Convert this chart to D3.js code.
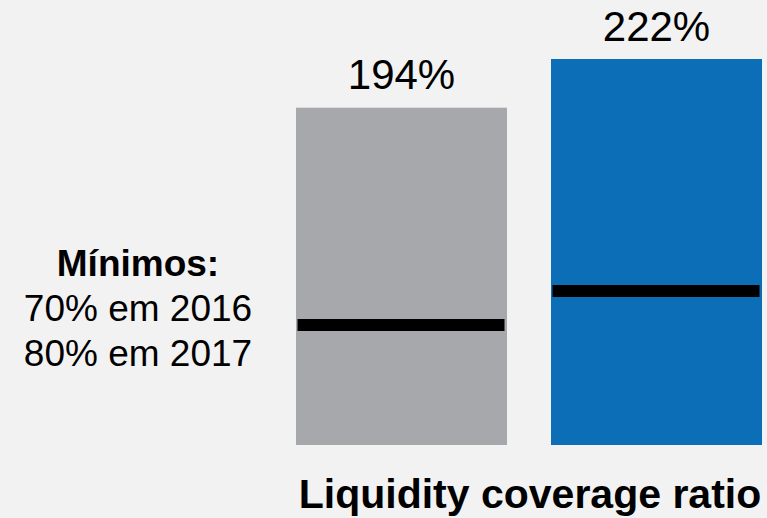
<!DOCTYPE html>
<html>
<head>
<meta charset="utf-8">
<script src="https://cdn.jsdelivr.net/npm/d3@7"></script>
<style>
  html, body { margin: 0; padding: 0; background: #f2f2f2; }
  svg { display: block; font-family: "Liberation Sans", Arial, sans-serif; }
</style>
</head>
<body>
<svg id="chart" width="767" height="518"></svg>
<script>
// Liquidity coverage ratio by year, with the regulatory minimum marked on each bar
const years = ["2016", "2017"];
const lcrValues = [194, 222];
const valueLabels = ["194%", "222%"];
const minimumMarks = [69, 88.6];
const barColors = ["#a7a8ab", "#0c6eb7"];
const noteLines = ["Mínimos:", "70% em 2016", "80% em 2017"];
const chartTitle = "Liquidity coverage ratio";

const svg = d3.select("#chart");

const x = d3.scaleBand()
  .domain(years)
  .range([296, 762])
  .paddingInner(44 / 255)
  .paddingOuter(0);

const y = d3.scaleLinear()
  .domain([0, 222])
  .range([445, 59]);

const data = years.map((yr, i) => ({
  year: yr, value: lcrValues[i], label: valueLabels[i],
  min: minimumMarks[i], color: barColors[i]
}));

// bars
svg.selectAll("rect.bar")
  .data(data)
  .join("rect")
  .attr("class", "bar")
  .attr("x", d => x(d.year))
  .attr("width", x.bandwidth())
  .attr("y", d => y(d.value))
  .attr("height", d => y(0) - y(d.value))
  .attr("fill", d => d.color);

// minimum requirement markers
svg.selectAll("line.min")
  .data(data)
  .join("line")
  .attr("class", "min")
  .attr("x1", d => x(d.year) + 1.5)
  .attr("x2", d => x(d.year) + x.bandwidth() - 2.5)
  .attr("y1", d => y(d.min))
  .attr("y2", d => y(d.min))
  .attr("stroke", "#000")
  .attr("stroke-width", 12);

// value labels above bars
svg.selectAll("text.val")
  .data(data)
  .join("text")
  .attr("class", "val")
  .attr("x", d => x(d.year) + x.bandwidth() / 2)
  .attr("y", d => y(d.value) - 18.5)
  .attr("text-anchor", "middle")
  .attr("font-size", 42)
  .attr("fill", "#000")
  .text(d => d.label);

// note on the left
svg.selectAll("text.note")
  .data(noteLines)
  .join("text")
  .attr("class", "note")
  .attr("x", 138)
  .attr("y", (d, i) => 276 + i * 45)
  .attr("text-anchor", "middle")
  .attr("font-size", 37)
  .attr("font-weight", (d, i) => i === 0 ? "bold" : "normal")
  .attr("fill", "#000")
  .text(d => d);

// title below the bars
svg.append("text")
  .attr("x", 530)
  .attr("y", 508)
  .attr("text-anchor", "middle")
  .attr("font-size", 41)
  .attr("font-weight", "bold")
  .attr("fill", "#000")
  .text(chartTitle);
</script>
</body>
</html>
